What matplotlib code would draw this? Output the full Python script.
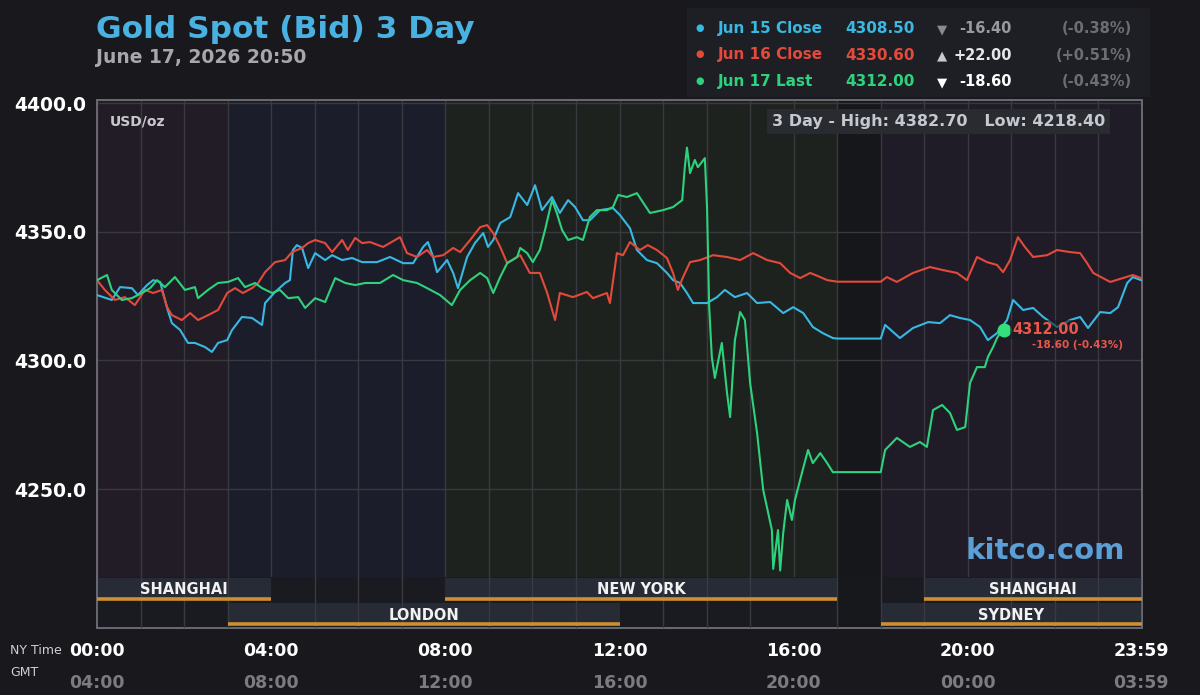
import matplotlib
matplotlib.use("Agg")
import matplotlib.pyplot as plt
from matplotlib.patches import Rectangle

# ---- data (NY time in hours, price in USD/oz) ----
jun15_h = [0.00, 0.34, 0.53, 0.80, 0.94, 1.15, 1.29, 1.45, 1.61, 1.72, 1.91, 2.09, 2.25, 2.48, 2.64,
           2.78, 2.99, 3.10, 3.33, 3.56, 3.79, 3.86, 4.09, 4.32, 4.43, 4.50, 4.59, 4.71, 4.85, 5.01,
           5.24, 5.40, 5.63, 5.86, 6.09, 6.43, 6.73, 7.03, 7.26, 7.49, 7.60, 7.72, 7.81, 8.04, 8.18,
           8.29, 8.50, 8.68, 8.87, 8.98, 9.10, 9.26, 9.49, 9.67, 9.88, 10.06, 10.22, 10.45, 10.63,
           10.82, 10.98, 11.16, 11.32, 11.55, 11.85, 12.01, 12.24, 12.40, 12.63, 12.86, 13.09, 13.23,
           13.39, 13.55, 13.69, 14.01, 14.24, 14.42, 14.65, 14.93, 15.16, 15.46, 15.76, 15.99, 16.22,
           16.44, 16.67, 16.90, 17.00, 18.00, 18.10, 18.44, 18.74, 19.09, 19.36, 19.59, 19.82, 20.05,
           20.28, 20.46, 20.67, 20.90, 21.04, 21.27, 21.50, 21.73, 22.05, 22.35, 22.58, 22.76, 23.04,
           23.27, 23.45, 23.66, 23.79, 23.98]
jun15_p = [4325.4, 4323.5, 4328.5, 4328.1, 4325.4, 4329.3, 4331.2, 4330.5, 4320.4, 4314.5, 4311.8,
           4306.8, 4306.8, 4305.2, 4303.3, 4306.8, 4307.9, 4311.8, 4316.9, 4316.5, 4313.8, 4322.3,
           4326.6, 4330.1, 4331.2, 4342.9, 4344.8, 4343.7, 4335.9, 4341.7, 4339.0, 4340.9, 4339.0,
           4339.8, 4338.2, 4338.2, 4340.2, 4337.8, 4337.8, 4344.1, 4346.0, 4340.2, 4334.3, 4339.0,
           4334.0, 4328.1, 4340.2, 4345.6, 4349.5, 4344.1, 4346.8, 4353.4, 4355.7, 4365.0, 4360.4,
           4368.1, 4358.4, 4363.5, 4357.3, 4362.3, 4359.6, 4354.5, 4354.5, 4358.4, 4359.2, 4356.5,
           4351.4, 4342.9, 4339.0, 4337.8, 4334.0, 4331.2, 4330.1, 4326.2, 4322.3, 4322.3, 4324.6,
           4327.4, 4324.6, 4326.2, 4322.3, 4322.7, 4318.4, 4320.7, 4318.4, 4313.0, 4310.6, 4308.7,
           4308.5, 4308.5, 4313.8, 4308.7, 4312.6, 4314.9, 4314.5, 4317.6, 4316.5, 4315.7, 4313.0,
           4307.9, 4310.6, 4315.7, 4323.5, 4319.6, 4320.4, 4316.9, 4313.0, 4315.7, 4316.9, 4312.6,
           4318.8, 4318.4, 4320.7, 4330.1, 4332.4, 4331.2]

jun16_h = [0.00, 0.18, 0.41, 0.64, 0.87, 1.10, 1.29, 1.49, 1.61, 1.72, 1.95, 2.14, 2.32, 2.55, 2.78,
           2.99, 3.17, 3.35, 3.56, 3.70, 3.86, 4.09, 4.32, 4.48, 4.71, 4.85, 5.01, 5.24, 5.40, 5.63,
           5.76, 5.93, 6.09, 6.27, 6.57, 6.96, 7.12, 7.35, 7.58, 7.72, 7.95, 8.18, 8.34, 8.57, 8.80,
           8.96, 9.10, 9.26, 9.42, 9.72, 9.94, 10.17, 10.34, 10.52, 10.63, 10.93, 11.25, 11.39, 11.71,
           11.78, 11.94, 12.08, 12.24, 12.47, 12.65, 12.86, 13.09, 13.23, 13.34, 13.46, 13.62, 13.85,
           14.15, 14.47, 14.77, 15.07, 15.39, 15.69, 15.92, 16.15, 16.38, 16.61, 16.77, 17.00, 18.00,
           18.14, 18.37, 18.74, 19.13, 19.43, 19.75, 19.98, 20.21, 20.44, 20.67, 20.81, 20.97, 21.15,
           21.31, 21.50, 21.82, 22.05, 22.35, 22.58, 22.74, 22.88, 23.27, 23.56, 23.79, 23.98]
jun16_p = [4331.2, 4327.4, 4323.5, 4324.6, 4321.5, 4327.4, 4326.2, 4327.4, 4320.7, 4317.6, 4315.7,
           4318.4, 4315.7, 4317.6, 4319.6, 4326.2, 4328.1, 4326.2, 4328.1, 4330.1, 4334.3, 4338.2,
           4339.0, 4342.1, 4343.7, 4345.6, 4346.8, 4345.6, 4342.1, 4346.8, 4342.9, 4347.6, 4345.6,
           4346.0, 4344.1, 4347.9, 4341.7, 4340.2, 4342.9, 4340.2, 4340.9, 4343.7, 4342.1, 4346.8,
           4351.8, 4352.6, 4349.5, 4344.1, 4337.8, 4340.9, 4334.0, 4334.0, 4326.2, 4315.7, 4326.2,
           4324.6, 4326.6, 4324.2, 4326.2, 4322.3, 4341.7, 4340.9, 4346.0, 4342.9, 4344.8, 4342.9,
           4339.8, 4334.0, 4327.4, 4332.4, 4338.2, 4339.0, 4340.9, 4340.2, 4339.0, 4341.7, 4339.0,
           4337.8, 4334.0, 4332.0, 4334.0, 4332.4, 4331.2, 4330.6, 4330.6, 4332.4, 4330.5, 4334.0,
           4336.3, 4335.1, 4334.0, 4331.2, 4340.2, 4338.2, 4337.1, 4334.3, 4339.0, 4347.9, 4344.1,
           4340.2, 4340.9, 4342.9, 4342.1, 4341.7, 4337.8, 4334.0, 4330.5, 4332.0, 4333.2, 4332.0]

jun17_h = [0.00, 0.23, 0.34, 0.57, 0.80, 1.03, 1.22, 1.38, 1.56, 1.79, 2.02, 2.25, 2.32, 2.55, 2.78,
           3.01, 3.24, 3.40, 3.63, 3.79, 4.02, 4.20, 4.39, 4.62, 4.78, 5.01, 5.24, 5.47, 5.70, 5.93,
           6.16, 6.50, 6.80, 7.03, 7.35, 7.58, 7.88, 8.15, 8.34, 8.57, 8.80, 8.96, 9.10, 9.26, 9.42,
           9.65, 9.72, 9.88, 10.01, 10.17, 10.29, 10.45, 10.56, 10.68, 10.82, 11.02, 11.16, 11.32,
           11.48, 11.71, 11.85, 11.97, 12.17, 12.40, 12.70, 13.00, 13.23, 13.44, 13.50, 13.55, 13.62,
           13.73, 13.80, 13.96, 14.01, 14.06, 14.12, 14.19, 14.35, 14.47, 14.54, 14.65, 14.77, 14.88,
           15.00, 15.16, 15.30, 15.50, 15.53, 15.64, 15.69, 15.76, 15.85, 15.96, 16.03, 16.19, 16.33,
           16.44, 16.61, 16.77, 16.90, 17.00, 18.00, 18.10, 18.37, 18.67, 18.90, 19.06, 19.20, 19.41,
           19.59, 19.75, 19.94, 20.05, 20.21, 20.39, 20.46, 20.58, 20.67, 20.74, 20.833]
jun17_p = [4331.2, 4333.2, 4327.4, 4323.5, 4324.2, 4326.2, 4328.1, 4331.2, 4328.5, 4332.4, 4327.4,
           4328.5, 4324.2, 4327.4, 4330.1, 4330.5, 4332.0, 4328.5, 4330.1, 4328.1, 4326.2, 4327.4,
           4324.2, 4324.6, 4320.4, 4324.2, 4322.7, 4332.0, 4330.1, 4329.3, 4330.1, 4330.1, 4333.2,
           4331.2, 4330.1, 4328.1, 4325.4, 4321.5, 4327.4, 4331.2, 4334.0, 4332.0, 4326.2, 4332.4,
           4337.8, 4340.2, 4343.7, 4341.7, 4338.2, 4342.9, 4350.7, 4362.3, 4357.3, 4350.7, 4346.8,
           4347.9, 4346.8, 4355.7, 4358.4, 4358.4, 4359.6, 4364.3, 4363.5, 4365.0, 4357.3, 4358.4,
           4359.6, 4362.3, 4375.1, 4382.7, 4372.8, 4377.9, 4375.1, 4378.6, 4359.6, 4320.7, 4301.3,
           4293.2, 4306.8, 4287.3, 4278.0, 4307.9, 4318.8, 4315.7, 4291.2, 4271.8, 4249.7, 4234.1,
           4219.0, 4234.1, 4218.4, 4233.0, 4245.8, 4238.0, 4245.8, 4256.3, 4265.2, 4260.1, 4264.0,
           4260.1, 4256.6, 4256.6, 4256.6, 4265.2, 4269.9, 4266.4, 4268.3, 4266.4, 4280.7, 4282.7,
           4279.6, 4273.0, 4274.1, 4291.2, 4297.4, 4297.4, 4301.3, 4305.2, 4308.7, 4310.6, 4312.0]

legend_names = ["Jun 15 Close", "Jun 16 Close", "Jun 17 Last"]
legend_values = ["4308.50", "4330.60", "4312.00"]
legend_arrows = ["\u25BC", "\u25B2", "\u25BC"]
legend_changes = ["-16.40", "+22.00", "-18.60"]
legend_pcts = ["(-0.38%)", "(+0.51%)", "(-0.43%)"]

price_ticks = [4250, 4300, 4350, 4400]
tick_hours = [0, 4, 8, 12, 16, 20, 23.983]
ny_labels = ["00:00", "04:00", "08:00", "12:00", "16:00", "20:00", "23:59"]
gmt_labels = ["04:00", "08:00", "12:00", "16:00", "20:00", "00:00", "03:59"]

# (name, start hour, end hour, row)
sessions = [("SHANGHAI", 0, 4, 0), ("NEW YORK", 8, 17, 0), ("SHANGHAI", 19, 24, 0),
            ("LONDON", 3, 12, 1), ("SYDNEY", 18, 24, 1)]
shades = [(0, 3, "#221c27"), (3, 8, "#1b1e2a"), (8, 17, "#1e221f"),
          (17, 18, "#16171a"), (18, 24, "#201c27")]

# ---- styling ----
BG = "#19191d"
GRID = "#393a40"
FRAME = "#6a6b72"
C15, C16, C17 = "#38b8e2", "#e24a3c", "#2fd27c"
W, H = 1200, 695


def fx(x):
    return x / W


def fy(y):
    return 1 - y / H


fig = plt.figure(figsize=(12, 6.95), dpi=100, facecolor=BG)

ax = fig.add_axes([fx(97), fy(577), (1142 - 97) / W, (577 - 100) / H])
ax.set_xlim(0, 24)
ax.set_ylim(4215.85, 4401.2)
for s, e, c in shades:
    ax.axvspan(s, e, color=c, zorder=0, lw=0)
ax.set_axisbelow(True)
ax.set_xticks(range(25))
ax.set_yticks(price_ticks)
ax.set_yticklabels([f"{v:.1f}" for v in price_ticks], color="white",
                   fontsize=13.5, fontweight="bold")
ax.tick_params(length=0, labelbottom=False, pad=8)
ax.grid(True, color=GRID, lw=1)
for side in ["top", "left", "right"]:
    ax.spines[side].set_color(FRAME)
    ax.spines[side].set_linewidth(1.4)
ax.spines["bottom"].set_visible(False)

ax.plot(jun15_h, jun15_p, color=C15, lw=1.5, zorder=3)
ax.plot(jun16_h, jun16_p, color=C16, lw=1.5, zorder=3)
ax.plot(jun17_h, jun17_p, color=C17, lw=1.5, zorder=4)

# last price marker
ax.plot(jun17_h[-1], jun17_p[-1], "o", color="#34e07e", ms=9, zorder=5)
ax.annotate(f"{jun17_p[-1]:.2f}", (jun17_h[-1], jun17_p[-1]), xytext=(6, 0),
            textcoords="offset points", ha="left", va="center", color="#e8574a",
            fontsize=10.5, fontweight="bold", zorder=6,
            bbox=dict(boxstyle="square,pad=0.15", fc="#1a1a1e", ec="none", alpha=0.55))
ax.annotate(f"{legend_changes[2]} {legend_pcts[2]}", (jun17_h[-1], jun17_p[-1]),
            xytext=(20, -11), textcoords="offset points", ha="left", va="center",
            color="#e8574a", fontsize=7.5, fontweight="bold", zorder=6)

all_p = jun15_p + jun16_p + jun17_p
ax.text(0.0125, 0.955, "USD/oz", transform=ax.transAxes, color="#c8c8cc",
        fontsize=10, fontweight="bold", ha="left", va="center")
ax.text(0.646, 0.955, f"3 Day - High: {max(all_p):.2f}   Low: {min(all_p):.2f}",
        transform=ax.transAxes, color="#c4c8d0", fontsize=11.5, fontweight="bold",
        ha="left", va="center",
        bbox=dict(boxstyle="square,pad=0.3", fc="#2a2b30", ec="none"))
ax.text(0.984, 0.055, "kitco.com", transform=ax.transAxes, color="#5a9fd6",
        fontsize=21, fontweight="bold", ha="right", va="center")

# session strip
axs = fig.add_axes([fx(97), fy(628), (1142 - 97) / W, 51 / H], facecolor="#1a1b20")
axs.set_xlim(0, 24)
axs.set_ylim(51, 0)
axs.set_yticks([])
axs.set_xticks(range(25), minor=True)
axs.set_xticks(tick_hours)
axs.set_xticklabels(ny_labels, color="white", fontsize=12.5, fontweight="bold")
axs.tick_params(which="both", length=0, pad=10)
axs.grid(True, which="minor", axis="x", color=GRID, lw=1)
axs.set_axisbelow(False)
for s, e, c in shades:
    if s == 17:
        axs.axvspan(s, e, color="#17181c", zorder=0, lw=0)
for name, s, e, row in sessions:
    y0 = 1 + row * 25
    axs.add_patch(Rectangle((s, y0), e - s, 22, fc="#262b36", ec="none", zorder=1))
    axs.plot([s, e], [y0 + 21, y0 + 21], color="#d08f2e", lw=2.6,
             solid_capstyle="butt", zorder=3)
    axs.text((s + e) / 2, y0 + 12, name, color="#f2f2f2", fontsize=10.5,
             fontweight="bold", ha="center", va="center", zorder=4)
axs.spines["top"].set_visible(False)
for side in ["left", "right", "bottom"]:
    axs.spines[side].set_color(FRAME)
    axs.spines[side].set_linewidth(1.4)

gmt = axs.secondary_xaxis("bottom")
gmt.set_xticks(tick_hours, gmt_labels)
gmt.tick_params(length=0, pad=33, labelsize=12.5, labelcolor="#7c7c80")
for lab in gmt.get_xticklabels():
    lab.set_fontweight("bold")
gmt.spines["bottom"].set_visible(False)

fig.text(fx(10), fy(650), "NY Time", color="#d0d0d4", fontsize=9, ha="left", va="center")
fig.text(fx(10), fy(673), "GMT", color="#d0d0d4", fontsize=9, ha="left", va="center")

# titles
fig.text(fx(96), fy(38), "Gold Spot (Bid) 3 Day", color="#4ab2e2", fontsize=22.5,
         fontweight="bold", ha="left", va="baseline")
fig.text(fx(96), fy(63), "June 17, 2026 20:50", color="#a8a8ac", fontsize=13.5,
         fontweight="bold", ha="left", va="baseline")

# legend panel
fig.patches.append(Rectangle((fx(687), fy(97)), (1150 - 687) / W, 89 / H,
                             transform=fig.transFigure, fc="#1e1f24", ec="none"))
row_colors = [C15, C16, C17]
arrow_colors = ["#8a8a8e", "#c8c8cc", "#ffffff"]
change_colors = ["#9a9a9e", "#e6e6e6", "#ffffff"]
for i, yb in enumerate([33, 59.5, 86]):
    fig.text(fx(700), fy(yb - 5), "\u25CF", color=row_colors[i], fontsize=7,
             ha="center", va="center")
    fig.text(fx(718), fy(yb), legend_names[i], color=row_colors[i], fontsize=11,
             fontweight="bold", ha="left", va="baseline")
    fig.text(fx(845), fy(yb), legend_values[i], color=row_colors[i], fontsize=11,
             fontweight="bold", ha="left", va="baseline")
    fig.text(fx(942), fy(yb), legend_arrows[i], color=arrow_colors[i], fontsize=9.5,
             ha="center", va="baseline")
    fig.text(fx(1012), fy(yb), legend_changes[i], color=change_colors[i], fontsize=10.5,
             fontweight="bold", ha="right", va="baseline")
    fig.text(fx(1132), fy(yb), legend_pcts[i], color="#6e6e72", fontsize=10.5,
             fontweight="bold", ha="right", va="baseline")

fig.savefig("out.png", dpi=100, facecolor=BG)
